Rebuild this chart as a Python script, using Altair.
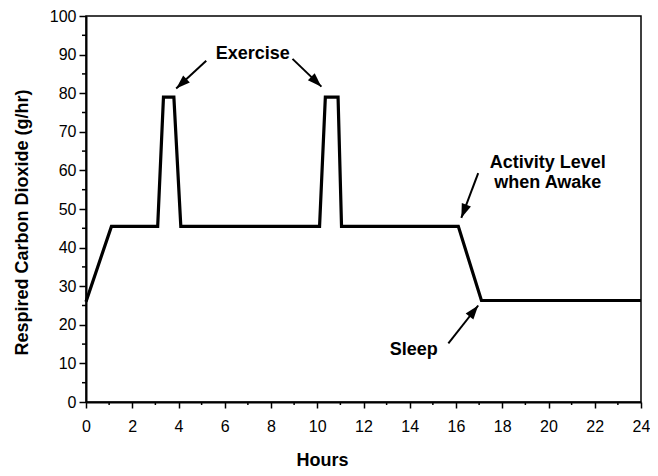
import altair as alt
import pandas as pd

# ---- data ----
hours = [0, 1.1, 3.1, 3.35, 3.8, 4.1, 10.1, 10.35, 10.9, 11.05, 16.1, 17.1, 24]
co2 = [26, 45.5, 45.5, 79, 79, 45.5, 45.5, 79, 79, 45.5, 45.5, 26.3, 26.3]

label_text = ["Exercise", "Activity Level", "when Awake", "Sleep"]
label_x = [7.21, 19.97, 19.97, 14.17]
label_y = [90.2, 61.9, 56.7, 13.4]

arrow_x0 = [5.2, 8.93, 16.96, 15.67]
arrow_y0 = [88.4, 88.9, 59.3, 15.2]
arrow_x1 = [3.9, 10.18, 16.23, 16.96]
arrow_y1 = [81.2, 81.7, 47.7, 25.0]
arrow_angle = [227, 134, 201, 38]

x_major = list(range(0, 25, 2))
x_minor = list(range(1, 25, 2))
y_major = list(range(0, 101, 10))
y_minor = list(range(5, 100, 10))

FONT = "Liberation Sans"
W, H = 555, 386

line_df = pd.DataFrame({"h": hours, "c": co2})
lab_df = pd.DataFrame({"t": label_text, "x": label_x, "y": label_y})
arr_df = pd.DataFrame({"x0": arrow_x0, "y0": arrow_y0, "x1": arrow_x1,
                       "y1": arrow_y1, "a": arrow_angle})
xm_df = pd.DataFrame({"v": x_minor})
ym_df = pd.DataFrame({"v": y_minor})

xscale = alt.Scale(domain=[0, 24], nice=False, zero=False)
yscale = alt.Scale(domain=[0, 100], nice=False, zero=False)

xaxis = alt.Axis(
    values=x_major, tickSize=6, labelPadding=10,
    labelFontSize=16, labelFont=FONT,
    title="Hours", titleX=236, titleY=58, titleBaseline="middle",
    labelOverlap=False, labelFlush=False,
)
yaxis = alt.Axis(
    values=y_major, tickSize=7, labelPadding=3,
    labelFontSize=16, labelFont=FONT,
    title="Respired Carbon Dioxide (g/hr)",
    titleX=-64, titleY=206, titleBaseline="middle",
    labelOverlap=False, labelFlush=False,
)


def X(f):
    return alt.X(f, scale=xscale, axis=xaxis, title="Hours")


def Y(f):
    return alt.Y(f, scale=yscale, axis=yaxis, title="Respired Carbon Dioxide (g/hr)")


line = alt.Chart(line_df).mark_line(color="black", strokeWidth=3.2, clip=False).encode(
    x=X("h:Q"), y=Y("c:Q"),
)

xminor = alt.Chart(xm_df).mark_rule(color="black", strokeWidth=1.5, clip=False).encode(
    x=X("v:Q"), y=alt.value(H), y2=alt.value(H + 3)
)
yminor = alt.Chart(ym_df).mark_rule(color="black", strokeWidth=1.5, clip=False).encode(
    y=Y("v:Q"), x=alt.value(-4), x2=alt.value(0)
)

rules = alt.Chart(arr_df).mark_rule(color="black", strokeWidth=2).encode(
    x=X("x0:Q"), y=Y("y0:Q"), x2="x1:Q", y2="y1:Q"
)

heads = alt.Chart(arr_df).mark_point(
    shape="M0,0L-0.45,1.3L0.45,1.3Z", filled=True, color="black",
    opacity=1, size=470, strokeWidth=0,
).encode(
    x=X("x1:Q"), y=Y("y1:Q"),
    angle=alt.Angle("a:Q", scale=None)
)

texts = alt.Chart(lab_df).mark_text(
    font=FONT, fontSize=18, fontWeight="bold", color="black",
    align="center", baseline="middle",
).encode(x=X("x:Q"), y=Y("y:Q"), text="t:N")

chart = alt.layer(line, xminor, yminor, rules, heads, texts).properties(
    width=W, height=H,
    autosize=alt.AutoSizeParams(type="none"),
    padding={"left": 78, "top": 8, "right": 9, "bottom": 72},
).configure_view(
    stroke="black", strokeWidth=1.5
).configure_axis(
    grid=False, domainColor="black", domainWidth=2, tickColor="black",
    tickWidth=1.5, labelFont=FONT, labelFontSize=16, labelColor="black",
    titleFont=FONT, titleFontSize=18, titleFontWeight="bold", titleColor="black",
    labelOverlap=False,
)

chart.save("out.html", embed_options={"renderer": "svg", "actions": False})
